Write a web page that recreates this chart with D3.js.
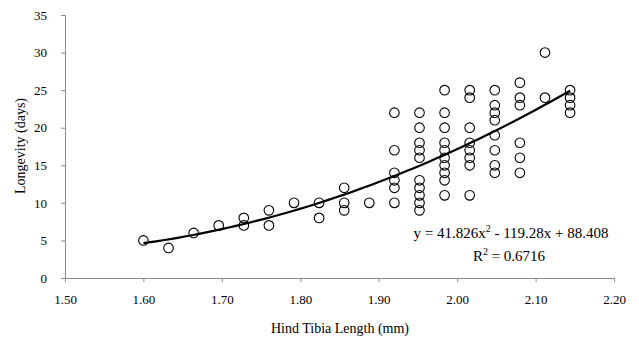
<!DOCTYPE html>
<html>
<head>
<meta charset="utf-8">
<script src="https://cdn.jsdelivr.net/npm/d3@7"></script>
<style>
  html, body { margin: 0; padding: 0; background: #fff; }
  svg text { font-family: "Liberation Serif", "Times New Roman", serif; fill: #000; }
</style>
</head>
<body>
<svg id="chart" width="639" height="347"></svg>
<script>
// ---- data ----
const hindTibiaLength = [1.600, 1.632, 1.664, 1.696, 1.728, 1.760, 1.792, 1.824, 1.856,
                         1.888, 1.920, 1.952, 1.984, 2.016, 2.048, 2.080, 2.112, 2.144];
const longevityDays = [
  [5], [4], [6], [7], [8, 7], [9, 7], [10], [10, 8], [12, 10, 9],
  [10], [22, 17, 14, 13, 12, 10],
  [22, 20, 18, 17, 16, 13, 12, 11, 10, 9],
  [25, 22, 20, 18, 17, 16, 15, 14, 13, 11],
  [25, 24, 20, 18, 17, 16, 15, 11],
  [25, 23, 22, 21, 19, 17, 15, 14],
  [26, 24, 23, 18, 16, 14],
  [30, 24],
  [25, 24, 23, 22]
];
const xTicks = [1.50, 1.60, 1.70, 1.80, 1.90, 2.00, 2.10, 2.20];
const yTicks = [0, 5, 10, 15, 20, 25, 30, 35];
const trendCoef = [41.826, -119.28, 88.408];   // a, b, c
const trendRange = [1.600, 2.144];
const equationText = "y = 41.826x";
const r2Value = "0.6716";

// ---- chart ----
const svg = d3.select("#chart");
const x = d3.scaleLinear().domain([1.5, 2.2]).range([65, 614]);
const y = d3.scaleLinear().domain([0, 35]).range([278, 15]);
const axisColor = "#8c8c8c";
const serif = '"Liberation Serif", "Times New Roman", serif';

// x axis
const gx = svg.append("g").attr("transform", `translate(0,${y(0)})`)
  .call(d3.axisBottom(x).tickValues(xTicks).tickFormat(d3.format(".2f")).tickSize(4).tickPadding(13));
gx.attr("font-family", serif).attr("font-size", 13);
gx.select(".domain").attr("stroke", axisColor);
gx.selectAll(".tick line").attr("stroke", axisColor);
gx.selectAll("text").style("font-family", serif).style("font-size", "13px");

// y axis
const gy = svg.append("g").attr("transform", `translate(${x(1.5)},0)`)
  .call(d3.axisLeft(y).tickValues(yTicks).tickSize(4).tickPadding(14));
gy.attr("font-family", serif).attr("font-size", 13);
gy.select(".domain").attr("stroke", axisColor);
gy.selectAll(".tick line").attr("stroke", axisColor);
gy.selectAll("text").style("font-family", serif).style("font-size", "13px");

// axis titles
svg.append("text").attr("x", 340).attr("y", 333).attr("text-anchor", "middle")
  .style("font-size", "14px").text("Hind Tibia Length (mm)");
svg.append("text").attr("transform", "translate(25,146) rotate(-90)").attr("text-anchor", "middle")
  .style("font-size", "14px").text("Longevity (days)");

// points
const pts = [];
hindTibiaLength.forEach((hx, i) => longevityDays[i].forEach(v => pts.push({x: hx, y: v})));
svg.append("g").selectAll("circle").data(pts).join("circle")
  .attr("cx", d => x(d.x)).attr("cy", d => y(d.y)).attr("r", 4.8)
  .attr("fill", "none").attr("stroke", "#000").attr("stroke-width", 1.1);

// trend line
const [a, b, c] = trendCoef;
const f = t => a * t * t + b * t + c;
const xs = d3.range(trendRange[0], trendRange[1] + 1e-9, (trendRange[1] - trendRange[0]) / 60);
svg.append("path").datum(xs)
  .attr("d", d3.line().x(t => x(t)).y(t => y(f(t))))
  .attr("fill", "none").attr("stroke", "#000").attr("stroke-width", 2.2);

// equation
const eq = svg.append("text").attr("x", 511).attr("y", 238).attr("text-anchor", "middle").style("font-size", "15px");
eq.append("tspan").text(equationText);
eq.append("tspan").attr("dy", -6).style("font-size", "10px").text("2");
eq.append("tspan").attr("dy", 6).text(" - " + Math.abs(b).toFixed(2) + "x + " + c.toFixed(3));
const r2 = svg.append("text").attr("x", 509).attr("y", 261).attr("text-anchor", "middle").style("font-size", "15px");
r2.append("tspan").text("R");
r2.append("tspan").attr("dy", -6).style("font-size", "10px").text("2");
r2.append("tspan").attr("dy", 6).text(" = " + r2Value);
</script>
</body>
</html>
